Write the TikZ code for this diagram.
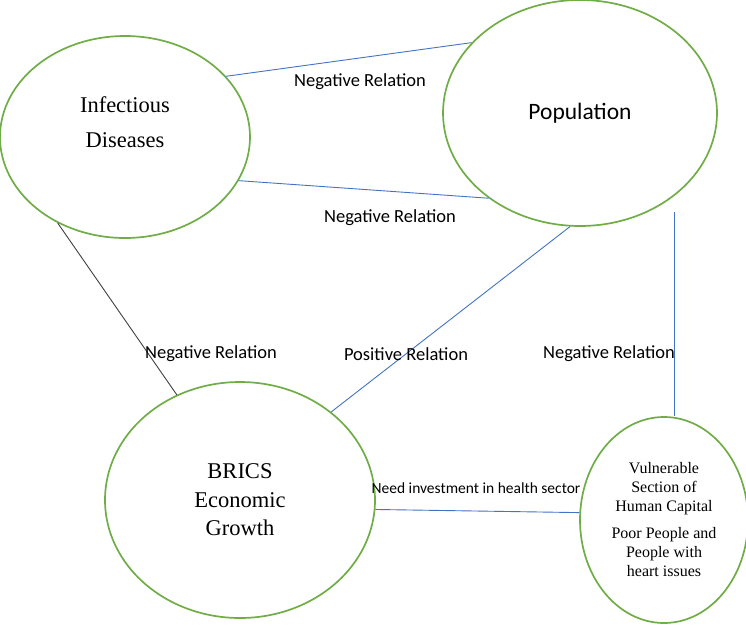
\documentclass[tikz,border=0pt]{standalone}
\usepackage{fontspec}
\setmainfont{Liberation Serif}
\newfontfamily\calib{Carlito}
\usepackage{xcolor}
\usetikzlibrary{shapes.geometric}

\definecolor{ringgreen}{HTML}{70AD47}
\definecolor{linkblue}{HTML}{4472C4}

\begin{document}
\begin{tikzpicture}[
  x=1pt, y=-1pt,
  bubble/.style={draw=ringgreen, line width=1.7pt, ellipse, inner sep=0pt, align=center},
  rel/.style={draw=linkblue, line width=0.9pt},
  relblack/.style={draw=black!75, line width=0.9pt},
  tag/.style={font=\calib\fontsize{18.5}{22}\selectfont, inner sep=0pt},
]
\useasboundingbox (0,0) rectangle (746,626);
% the four factors
\node[bubble, minimum width=250pt, minimum height=202pt] (inf) at (125,137) {};
\node[align=center, font=\fontsize{22.5}{35}\selectfont] (inftext) at ([yshift=15pt]inf.center) {Infectious\\Diseases};
\node[bubble, minimum width=274pt, minimum height=226pt,
  font=\calib\fontsize{23.5}{28}\selectfont] (pop) at (580,113) {Population};
\node[bubble, minimum width=270pt, minimum height=236pt,
  font=\fontsize{22.5}{28.5}\selectfont] (brics) at (240,500) {BRICS\\Economic\\Growth};
\node[bubble, minimum width=168pt, minimum height=206pt,
  font=\fontsize{16}{19}\selectfont] (vuln) at (664,520)
  {Vulnerable\\Section of\\Human Capital\\[8pt]Poor People and\\People with\\heart issues};
\coordinate (vtop) at (674,212);
% relations
\draw[rel] (inf.31) -- (pop.147);
\draw[rel] (inf.-21) -- (pop.223);
\draw[relblack] (inf.232) -- (brics.121);
\draw[rel] (pop.265) -- (brics.44);
\draw[rel] (vtop) -- (vtop |- vuln.north);
\draw[rel] (brics.-4) -- (vuln.175);
% labels
\node[tag] (l1) at (360,82) {Negative Relation};
\node[tag] (l2) at (390,218) {Negative Relation};
\node[tag] (l3) at (211,354) {Negative Relation};
\node[tag] (l4) at (406,354) {Positive Relation};
\node[tag] (l5) at (609,354) {Negative Relation};
\node[tag, font=\calib\fontsize{15.5}{18}\selectfont] (l6) at (476,488) {Need investment in health sector};
\end{tikzpicture}
\end{document}
